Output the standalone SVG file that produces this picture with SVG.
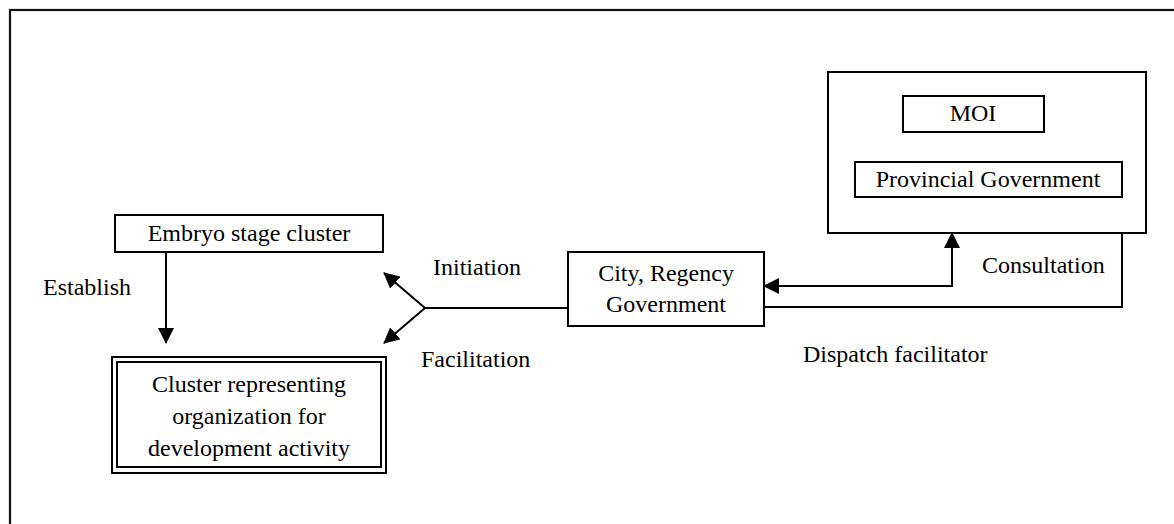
<svg xmlns="http://www.w3.org/2000/svg" width="1174" height="524" viewBox="0 0 1174 524">
  <style>
    .box { fill: #fff; stroke: #000; stroke-width: 2; }
    .wire { fill: none; stroke: #000; stroke-width: 2; }
    .lbl { font-family: "Liberation Serif", "Times New Roman", serif; font-size: 24px; fill: #000; }
    .mid { text-anchor: middle; }
  </style>
  <defs>
    <marker id="head" viewBox="0 0 16 16" refX="15" refY="8" markerWidth="16" markerHeight="16" markerUnits="userSpaceOnUse" orient="auto-start-reverse">
      <path d="M0,0 L16,8 L0,16 Z" fill="#000"/>
    </marker>
  </defs>

  <rect width="1174" height="524" fill="#fff"/>
  <!-- outer frame, running off the right and bottom edges -->
  <rect x="10" y="10" width="1200" height="560" fill="none" stroke="#111" stroke-width="2.2"/>

  <g id="connectors">
    <!-- Establish -->
    <line class="wire" x1="166" y1="252" x2="166" y2="343" marker-end="url(#head)"/>
    <!-- City/Regency to cluster org: split into Initiation / Facilitation -->
    <line class="wire" x1="568" y1="308" x2="425" y2="308"/>
    <line class="wire" x1="425" y1="308" x2="384" y2="273" marker-end="url(#head)"/>
    <line class="wire" x1="425" y1="308" x2="384" y2="343" marker-end="url(#head)"/>
    <!-- Consultation -->
    <polyline class="wire" points="764,286 952,286 952,233" marker-start="url(#head)" marker-end="url(#head)"/>
    <!-- Dispatch facilitator -->
    <polyline class="wire" points="764,307 1122,307 1122,233"/>
  </g>

  <g id="embryo">
    <rect class="box" x="115" y="215" width="268" height="37"/>
    <text class="lbl mid" x="249" y="241">Embryo stage cluster</text>
  </g>

  <g id="cluster-org">
    <rect class="box" x="112" y="357" width="274" height="116" stroke-width="3"/>
    <rect class="box" x="117" y="362" width="264" height="105"/>
    <text class="lbl mid" x="249" y="392">Cluster representing</text>
    <text class="lbl mid" x="249" y="424">organization for</text>
    <text class="lbl mid" x="249" y="456">development activity</text>
  </g>

  <g id="city-regency">
    <rect class="box" x="568" y="252" width="196" height="74"/>
    <text class="lbl mid" x="666" y="281">City, Regency</text>
    <text class="lbl mid" x="666" y="312">Government</text>
  </g>

  <g id="upper-gov">
    <rect class="box" x="828" y="72" width="318" height="161"/>
    <g id="moi">
      <rect class="box" x="903" y="96" width="141" height="36"/>
      <text class="lbl mid" x="973" y="121">MOI</text>
    </g>
    <g id="provincial">
      <rect class="box" x="855" y="162" width="267" height="35"/>
      <text class="lbl mid" x="988" y="187">Provincial Government</text>
    </g>
  </g>

  <g id="labels">
    <text class="lbl" x="43" y="295">Establish</text>
    <text class="lbl" x="433" y="275">Initiation</text>
    <text class="lbl" x="421" y="367">Facilitation</text>
    <text class="lbl" x="982" y="273">Consultation</text>
    <text class="lbl" x="803" y="362">Dispatch facilitator</text>
  </g>
</svg>
